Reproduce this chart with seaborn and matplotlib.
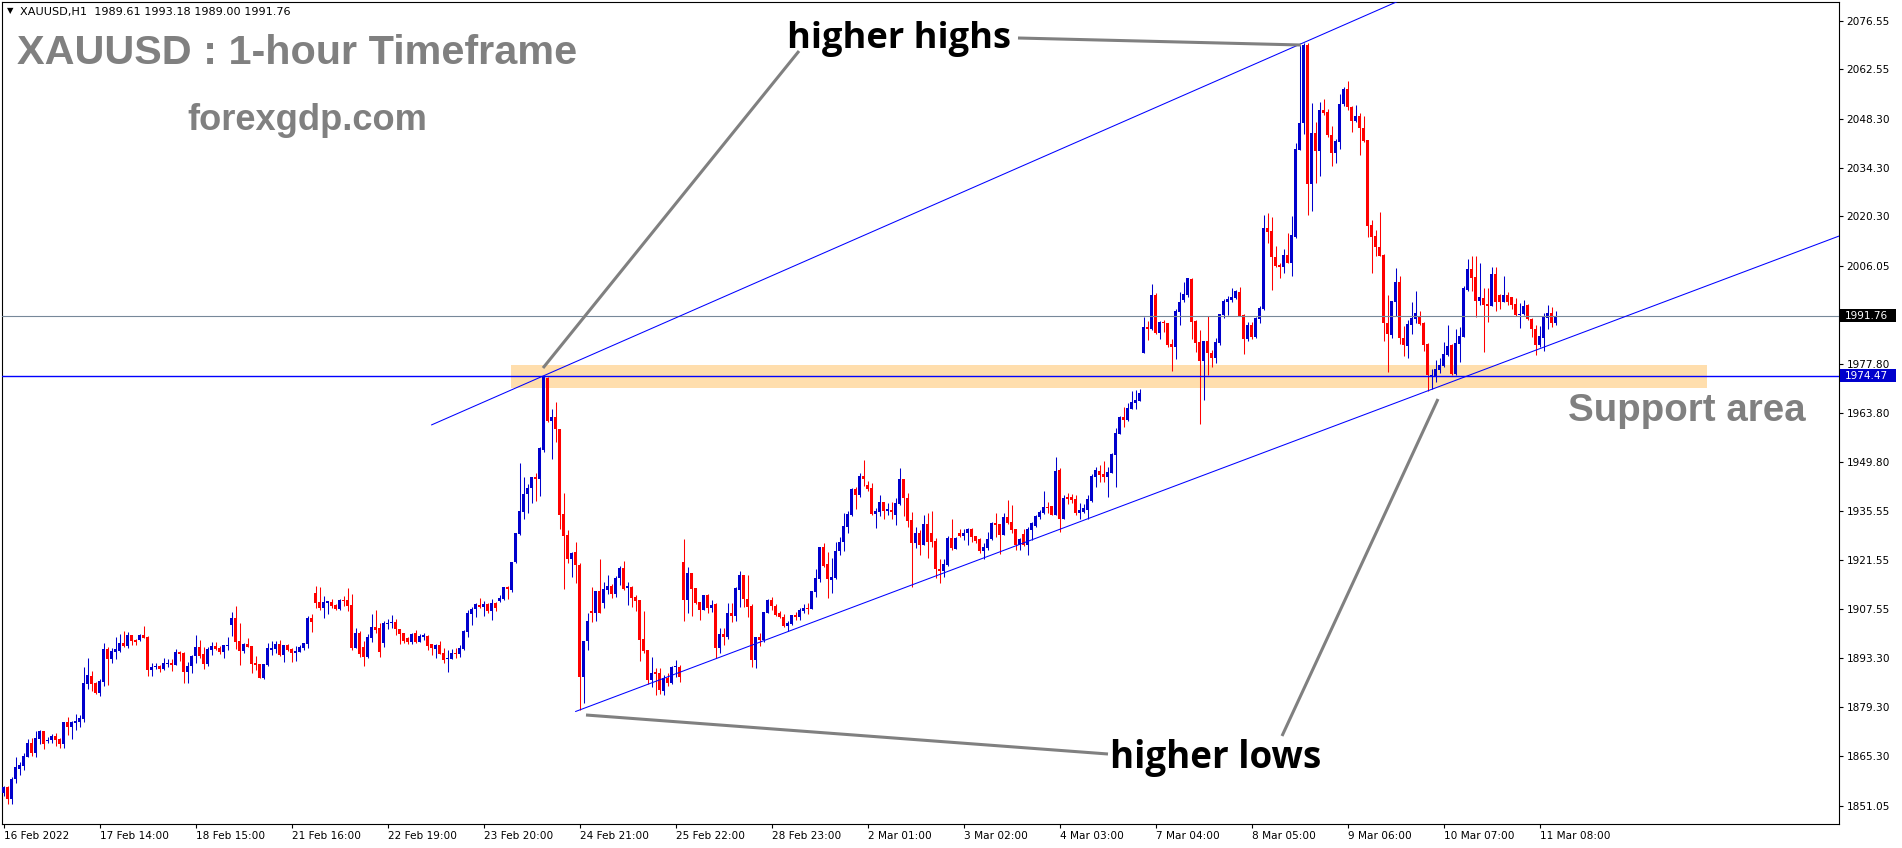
import matplotlib
matplotlib.use("Agg")
import matplotlib.pyplot as plt
import matplotlib.transforms as mtransforms
from matplotlib.patches import Rectangle
from matplotlib.lines import Line2D
import numpy as np
import pandas as pd
import seaborn as sns

# XAUUSD H1 candles, 16 Feb 2022 .. 11 Mar 2022
opens = [
    1854.6, 1856.3, 1852.8, 1858.7, 1861.5, 1862.5, 1865.1, 1869.0, 1866.2, 1870.3,
    1872.5, 1869.7, 1869.8, 1871.0, 1870.2, 1868.8, 1875.0, 1873.7, 1874.8, 1875.0,
    1875.9, 1886.1, 1888.3, 1886.3, 1883.4, 1886.6, 1896.0, 1893.2, 1895.3, 1895.5,
    1897.8, 1896.9, 1900.0, 1898.7, 1898.6, 1900.0, 1899.5, 1890.0, 1890.9, 1891.2,
    1890.3, 1891.7, 1892.0, 1891.4, 1895.2, 1894.9, 1889.4, 1891.2, 1894.0, 1896.7,
    1894.6, 1891.7, 1895.7, 1896.9, 1896.3, 1895.1, 1896.9, 1902.9, 1904.9, 1898.3,
    1895.4, 1897.5, 1896.9, 1892.0, 1891.7, 1887.7, 1891.4, 1895.7, 1896.0, 1897.5,
    1894.3, 1897.2, 1896.0, 1894.9, 1895.1, 1896.3, 1897.5, 1904.9, 1912.1, 1909.5,
    1907.8, 1909.2, 1909.5, 1908.7, 1907.5, 1910.1, 1910.1, 1908.7, 1896.3, 1900.6,
    1896.6, 1893.7, 1899.2, 1902.3, 1902.0, 1897.8, 1903.2, 1903.4, 1903.8, 1901.8,
    1900.5, 1899.1, 1898.1, 1900.5, 1898.1, 1899.6, 1899.7, 1897.4, 1896.0, 1897.2,
    1894.8, 1893.1, 1893.1, 1894.9, 1894.5, 1895.9, 1901.0, 1906.1, 1907.4, 1908.7,
    1908.2, 1908.9, 1907.0, 1909.1, 1909.9, 1910.3, 1913.7, 1913.1, 1921.0, 1929.1,
    1935.5, 1940.5, 1942.2, 1945.3, 1944.8, 1953.2, 1973.8, 1961.6, 1962.6, 1959.1,
    1934.8, 1928.9, 1921.8, 1923.9, 1920.2, 1887.9, 1898.3, 1906.9, 1906.4, 1912.8,
    1909.3, 1913.0, 1914.1, 1911.8, 1916.3, 1919.4, 1913.5, 1913.9, 1910.9, 1910.1,
    1898.9, 1895.7, 1887.1, 1889.5, 1889.2, 1884.1, 1887.6, 1886.3, 1890.8, 1890.9,
    1921.1, 1910.1, 1917.8, 1913.5, 1909.6, 1907.2, 1911.4, 1907.9, 1908.9, 1896.2,
    1900.3, 1899.6, 1906.5, 1905.5, 1913.0, 1917.3, 1910.3, 1908.4, 1892.9, 1899.6,
    1898.6, 1906.5, 1910.1, 1908.5, 1906.5, 1905.3, 1902.6, 1903.2, 1905.8, 1905.1,
    1907.0, 1907.7, 1907.4, 1912.4, 1916.2, 1925.3, 1920.4, 1915.9, 1916.4, 1924.3,
    1926.7, 1931.2, 1934.5, 1941.9, 1940.2, 1945.7, 1943.1, 1942.3, 1934.8, 1935.5,
    1938.4, 1935.7, 1936.1, 1934.5, 1937.7, 1944.8, 1939.3, 1933.1, 1926.4, 1929.3,
    1925.9, 1931.8, 1929.4, 1927.0, 1918.9, 1918.5, 1920.1, 1928.0, 1924.7, 1929.3,
    1928.5, 1929.3, 1930.5, 1928.5, 1927.5, 1924.3, 1924.9, 1927.5, 1932.1, 1931.9,
    1928.8, 1934.0, 1932.6, 1930.4, 1925.9, 1929.2, 1925.9, 1930.2, 1931.4, 1934.0,
    1935.0, 1936.9, 1937.1, 1934.5, 1947.4, 1933.5, 1939.8, 1939.8, 1939.0, 1935.2,
    1935.5, 1936.0, 1938.6, 1945.5, 1947.2, 1946.3, 1945.5, 1946.7, 1951.7, 1957.8,
    1962.8, 1961.8, 1964.9, 1966.8, 1967.3, 1981.2, 1988.4, 1987.9, 1997.7, 1986.7,
    1990.1, 1989.8, 1983.6, 1982.9, 1992.9, 1996.2, 1997.7, 2002.3, 1990.2, 1984.3,
    1978.8, 1984.5, 1981.2, 1979.5, 1984.0, 1991.9, 1995.8, 1996.3, 1997.0, 1998.7,
    1992.0, 1985.0, 1989.1, 1985.7, 1990.8, 1993.6, 2016.9, 2016.2, 2008.7, 2006.3,
    2005.8, 2009.2, 2007.0, 2014.5, 2039.4, 2047.0, 2069.5, 2029.6, 2044.2, 2039.2,
    2050.8, 2050.3, 2043.7, 2038.4, 2041.7, 2052.6, 2056.8, 2051.8, 2047.8, 2049.1,
    2045.6, 2042.2, 2017.8, 2014.7, 2011.4, 2009.2, 1989.6, 1986.2, 1995.8, 2001.6,
    1985.5, 1983.1, 1989.1, 1990.9, 1991.7, 1989.8, 1983.6, 1974.5, 1974.4, 1976.2,
    1977.3, 1980.5, 1983.4, 1975.0, 1983.6, 1985.7, 1999.2, 2005.1, 2002.8, 1996.1,
    1997.0, 1995.1, 1994.5, 2003.7, 1997.7, 1995.8, 1997.7, 1997.2, 1995.1, 1992.0,
    1992.2, 1994.8, 1990.7, 1987.9, 1983.4, 1985.5, 1991.0, 1992.5, 1989.61,
]
highs = [
    1856.8, 1856.7, 1859.2, 1865.1, 1863.6, 1866.1, 1870.2, 1870.4, 1872.4, 1872.8,
    1872.5, 1870.7, 1871.7, 1871.9, 1870.4, 1875.0, 1876.5, 1875.3, 1877.3, 1877.1,
    1890.9, 1893.4, 1889.7, 1886.5, 1887.3, 1897.7, 1896.5, 1896.2, 1899.5, 1900.3,
    1901.2, 1900.9, 1900.0, 1899.0, 1900.3, 1902.6, 1899.8, 1892.0, 1892.0, 1891.4,
    1893.4, 1893.2, 1893.2, 1896.0, 1895.5, 1895.2, 1892.3, 1894.3, 1900.0, 1898.6,
    1896.7, 1896.7, 1898.1, 1898.0, 1896.9, 1897.2, 1899.5, 1906.6, 1908.4, 1903.5,
    1897.7, 1899.2, 1896.9, 1894.0, 1891.7, 1891.7, 1897.8, 1898.3, 1898.3, 1898.6,
    1897.2, 1897.5, 1896.3, 1896.9, 1897.2, 1897.8, 1905.5, 1906.1, 1914.1, 1913.8,
    1911.3, 1909.8, 1910.4, 1909.0, 1910.4, 1911.3, 1913.5, 1911.8, 1902.1, 1901.2,
    1898.3, 1900.3, 1906.1, 1907.2, 1903.5, 1904.1, 1904.6, 1905.8, 1904.6, 1901.8,
    1900.5, 1899.6, 1900.7, 1901.5, 1900.3, 1900.5, 1900.0, 1897.4, 1897.6, 1898.4,
    1896.2, 1895.7, 1895.9, 1896.2, 1897.2, 1901.5, 1907.2, 1908.0, 1909.3, 1910.6,
    1909.9, 1909.3, 1910.3, 1909.6, 1911.6, 1913.9, 1914.2, 1921.1, 1929.4, 1949.4,
    1945.5, 1943.4, 1945.3, 1946.5, 1954.2, 1974.5, 1974.3, 1964.9, 1967.1, 1959.1,
    1940.7, 1930.2, 1924.0, 1926.9, 1920.6, 1898.3, 1906.3, 1913.9, 1912.8, 1921.9,
    1915.2, 1917.3, 1914.7, 1917.0, 1919.9, 1921.3, 1915.4, 1914.2, 1911.5, 1910.1,
    1906.9, 1895.7, 1893.6, 1890.5, 1890.5, 1888.6, 1889.0, 1891.1, 1893.0, 1891.3,
    1927.6, 1919.7, 1917.8, 1913.5, 1909.6, 1911.6, 1911.8, 1910.1, 1909.1, 1902.0,
    1902.0, 1909.1, 1909.1, 1913.9, 1918.4, 1917.3, 1917.3, 1909.0, 1899.4, 1900.7,
    1906.7, 1910.3, 1911.1, 1909.0, 1906.8, 1906.1, 1904.1, 1905.8, 1906.7, 1907.7,
    1908.9, 1909.1, 1912.8, 1918.9, 1925.3, 1926.4, 1924.0, 1922.1, 1926.9, 1928.3,
    1935.2, 1935.7, 1942.2, 1942.5, 1946.7, 1950.3, 1944.3, 1943.8, 1936.4, 1940.3,
    1938.4, 1937.9, 1938.4, 1939.3, 1947.9, 1944.8, 1940.7, 1935.5, 1931.2, 1930.2,
    1934.5, 1935.0, 1935.6, 1927.8, 1921.8, 1921.8, 1928.5, 1933.3, 1928.3, 1930.4,
    1930.6, 1930.7, 1930.7, 1928.5, 1927.8, 1926.4, 1929.7, 1932.6, 1935.0, 1931.9,
    1935.0, 1938.8, 1937.4, 1930.4, 1927.8, 1930.6, 1931.1, 1932.6, 1934.5, 1935.9,
    1941.5, 1938.3, 1937.1, 1951.1, 1947.9, 1940.2, 1940.9, 1940.5, 1940.2, 1937.9,
    1937.7, 1940.2, 1946.3, 1948.2, 1948.9, 1950.1, 1948.4, 1952.2, 1959.4, 1963.0,
    1965.6, 1966.6, 1970.2, 1970.4, 1970.6, 1991.5, 1990.3, 2000.9, 1998.4, 1990.3,
    1990.5, 1989.8, 1985.0, 1993.6, 1998.7, 2001.5, 2002.5, 2002.5, 1990.5, 1987.8,
    1984.6, 1991.7, 1981.9, 1985.3, 1992.4, 1996.7, 1997.4, 1999.6, 1999.1, 2000.1,
    1992.4, 1990.0, 1990.0, 1991.5, 1994.5, 2020.7, 2021.2, 2020.2, 2011.8, 2006.8,
    2010.8, 2015.6, 2020.4, 2041.3, 2070.0, 2070.2, 2070.0, 2052.8, 2047.5, 2053.3,
    2053.9, 2051.2, 2046.3, 2042.4, 2055.6, 2057.6, 2059.2, 2052.0, 2052.3, 2049.9,
    2049.1, 2042.2, 2019.3, 2016.4, 2021.7, 2009.5, 1997.7, 1996.0, 2005.4, 2003.2,
    1988.8, 1990.5, 1995.8, 1999.0, 1993.2, 1990.1, 1983.8, 1976.6, 1979.0, 1979.5,
    1984.3, 1989.1, 1983.7, 1987.9, 1988.4, 2000.3, 2008.0, 2008.9, 2008.9, 2007.0,
    1999.6, 1999.6, 2005.7, 2005.7, 1998.0, 2003.2, 1998.7, 1997.2, 1996.8, 1995.5,
    1996.3, 1995.1, 1991.0, 1989.1, 1988.8, 1992.6, 1994.8, 1994.4, 1993.18,
]
lows = [
    1853.9, 1851.4, 1851.4, 1857.4, 1859.9, 1861.3, 1865.1, 1865.3, 1865.1, 1868.8,
    1867.4, 1869.0, 1869.1, 1868.2, 1867.7, 1867.7, 1871.3, 1870.3, 1872.8, 1873.7,
    1875.0, 1884.5, 1884.1, 1883.2, 1882.4, 1885.5, 1885.8, 1892.1, 1893.1, 1895.1,
    1896.6, 1896.3, 1897.3, 1897.3, 1898.3, 1899.2, 1888.3, 1888.3, 1890.3, 1889.4,
    1890.0, 1890.9, 1889.7, 1891.4, 1892.6, 1886.3, 1886.3, 1889.1, 1892.0, 1893.3,
    1890.4, 1891.1, 1894.3, 1895.7, 1894.6, 1893.4, 1895.7, 1899.8, 1896.0, 1891.4,
    1894.9, 1896.6, 1889.1, 1890.0, 1887.7, 1887.4, 1891.1, 1894.3, 1894.9, 1894.0,
    1892.3, 1895.4, 1892.3, 1892.6, 1895.1, 1895.7, 1896.3, 1900.9, 1907.8, 1907.2,
    1904.9, 1906.1, 1907.8, 1907.2, 1907.2, 1908.4, 1906.9, 1895.7, 1896.3, 1893.7,
    1891.1, 1893.4, 1898.0, 1900.6, 1893.7, 1896.6, 1901.8, 1902.0, 1900.0, 1897.6,
    1897.8, 1897.6, 1897.6, 1897.8, 1898.1, 1898.6, 1895.7, 1894.3, 1893.3, 1894.6,
    1891.9, 1889.5, 1893.1, 1893.5, 1893.8, 1895.7, 1899.6, 1902.9, 1905.3, 1907.7,
    1905.5, 1906.3, 1904.3, 1907.0, 1909.6, 1910.1, 1910.3, 1912.5, 1920.8, 1928.8,
    1933.3, 1935.2, 1937.9, 1938.6, 1940.0, 1952.7, 1961.3, 1950.5, 1955.6, 1930.4,
    1913.3, 1920.8, 1916.6, 1914.9, 1878.5, 1880.4, 1895.7, 1903.9, 1904.1, 1906.3,
    1907.9, 1911.8, 1910.6, 1911.1, 1914.4, 1913.0, 1908.7, 1908.2, 1907.0, 1892.7,
    1894.8, 1886.1, 1885.2, 1882.8, 1883.1, 1882.8, 1885.4, 1886.1, 1887.9, 1886.6,
    1904.1, 1906.5, 1905.5, 1908.9, 1904.4, 1907.2, 1906.5, 1906.7, 1893.3, 1894.8,
    1897.2, 1898.8, 1903.9, 1904.2, 1908.2, 1908.2, 1905.3, 1890.9, 1890.5, 1896.9,
    1898.1, 1906.5, 1907.2, 1905.5, 1904.8, 1902.4, 1901.3, 1902.9, 1904.3, 1904.3,
    1906.3, 1906.1, 1907.4, 1911.0, 1915.4, 1919.7, 1910.8, 1912.2, 1916.1, 1923.0,
    1924.2, 1929.4, 1934.2, 1936.3, 1939.8, 1942.8, 1941.5, 1934.5, 1930.8, 1934.2,
    1933.3, 1934.5, 1933.3, 1931.6, 1937.4, 1934.2, 1931.2, 1913.9, 1924.9, 1923.0,
    1925.9, 1922.1, 1925.4, 1916.3, 1914.9, 1916.8, 1919.9, 1924.6, 1924.7, 1928.1,
    1927.3, 1925.9, 1926.8, 1926.6, 1923.7, 1921.8, 1924.6, 1927.3, 1928.3, 1923.3,
    1928.8, 1931.9, 1929.4, 1924.4, 1924.6, 1925.6, 1923.0, 1927.3, 1931.0, 1933.5,
    1934.8, 1935.0, 1934.5, 1934.5, 1929.7, 1933.5, 1937.7, 1938.0, 1934.5, 1933.5,
    1935.0, 1933.5, 1938.3, 1942.5, 1944.1, 1944.1, 1939.8, 1946.5, 1942.5, 1957.8,
    1959.9, 1961.6, 1964.9, 1964.9, 1967.3, 1981.2, 1984.8, 1987.7, 1986.5, 1985.0,
    1987.2, 1982.9, 1976.0, 1979.2, 1989.1, 1995.8, 1997.2, 1985.2, 1981.4, 1960.8,
    1967.7, 1974.7, 1977.1, 1978.3, 1983.3, 1991.0, 1992.0, 1995.8, 1996.7, 1991.7,
    1980.9, 1984.6, 1985.0, 1985.5, 1989.6, 1993.4, 2012.8, 1999.3, 2005.7, 2002.5,
    2003.9, 2007.0, 2003.2, 2014.0, 2039.4, 2044.0, 2020.7, 2021.9, 2029.8, 2031.9,
    2049.4, 2043.0, 2034.8, 2035.7, 2039.8, 2052.0, 2050.9, 2044.6, 2047.5, 2037.9,
    2041.8, 2014.5, 2003.9, 2008.9, 2008.9, 1984.6, 1975.7, 1985.3, 1991.7, 1983.6,
    1980.2, 1979.5, 1986.5, 1989.6, 1989.1, 1981.7, 1970.2, 1970.6, 1972.8, 1975.2,
    1976.9, 1980.2, 1974.7, 1974.7, 1978.6, 1985.7, 1999.0, 1999.0, 1991.5, 1994.9,
    1981.4, 1990.0, 1994.5, 1993.2, 1993.6, 1995.8, 1994.9, 1993.6, 1991.7, 1988.1,
    1992.0, 1990.5, 1985.7, 1980.5, 1982.7, 1981.7, 1987.9, 1988.4, 1989.0,
]
closes = [
    1856.5, 1852.8, 1858.7, 1862.0, 1862.7, 1865.2, 1869.0, 1866.2, 1870.5, 1872.5,
    1868.8, 1869.9, 1871.1, 1869.9, 1868.8, 1875.0, 1873.7, 1875.0, 1875.3, 1876.2,
    1886.3, 1888.6, 1886.1, 1883.4, 1886.8, 1896.0, 1893.2, 1895.5, 1895.9, 1897.8,
    1896.9, 1900.0, 1898.4, 1898.1, 1900.0, 1899.2, 1890.0, 1890.9, 1891.2, 1890.3,
    1892.0, 1892.0, 1891.4, 1895.2, 1894.6, 1889.4, 1891.2, 1894.0, 1896.6, 1894.0,
    1891.7, 1896.0, 1896.9, 1896.0, 1895.1, 1897.2, 1897.2, 1904.9, 1898.0, 1895.4,
    1897.5, 1896.6, 1891.7, 1891.4, 1887.7, 1891.7, 1896.3, 1896.3, 1897.5, 1894.3,
    1897.2, 1895.7, 1894.9, 1895.4, 1896.6, 1897.8, 1904.9, 1903.8, 1909.2, 1907.8,
    1909.5, 1909.8, 1908.4, 1907.5, 1910.1, 1909.8, 1908.4, 1896.3, 1900.6, 1894.5,
    1893.7, 1899.5, 1902.3, 1901.5, 1895.2, 1903.5, 1903.5, 1903.6, 1901.7, 1900.3,
    1898.4, 1898.1, 1900.3, 1898.1, 1899.8, 1900.0, 1896.9, 1896.2, 1897.2, 1894.6,
    1892.9, 1893.5, 1894.8, 1894.5, 1896.4, 1901.2, 1906.3, 1907.5, 1908.9, 1908.2,
    1908.9, 1907.0, 1909.1, 1907.7, 1910.6, 1913.7, 1913.4, 1921.1, 1929.4, 1935.7,
    1940.5, 1942.4, 1945.3, 1944.9, 1953.7, 1974.3, 1961.6, 1962.6, 1959.1, 1934.4,
    1928.6, 1921.8, 1923.7, 1920.2, 1887.9, 1898.3, 1904.0, 1906.4, 1912.8, 1906.3,
    1913.3, 1914.1, 1911.8, 1916.5, 1919.4, 1913.3, 1914.2, 1910.6, 1909.9, 1898.6,
    1895.5, 1887.1, 1889.2, 1888.8, 1884.2, 1887.6, 1886.3, 1890.8, 1891.0, 1887.9,
    1910.1, 1917.8, 1913.2, 1909.3, 1907.2, 1911.4, 1907.9, 1908.7, 1896.2, 1900.3,
    1899.6, 1906.5, 1905.5, 1913.5, 1917.3, 1910.3, 1908.2, 1892.9, 1899.4, 1898.6,
    1906.7, 1910.1, 1908.4, 1905.8, 1905.3, 1902.6, 1903.6, 1905.8, 1905.1, 1907.2,
    1907.8, 1907.4, 1912.6, 1916.4, 1925.3, 1919.9, 1916.2, 1916.7, 1924.3, 1926.8,
    1931.4, 1934.8, 1941.9, 1940.3, 1945.7, 1945.0, 1941.9, 1934.8, 1935.7, 1938.4,
    1935.7, 1936.3, 1935.5, 1938.0, 1944.8, 1939.3, 1932.9, 1926.6, 1929.3, 1925.9,
    1931.8, 1926.9, 1926.9, 1918.9, 1918.5, 1920.4, 1928.0, 1925.1, 1928.0, 1928.5,
    1929.3, 1930.5, 1928.3, 1927.0, 1924.3, 1925.2, 1927.5, 1932.3, 1931.6, 1928.8,
    1934.0, 1932.3, 1930.2, 1925.9, 1927.5, 1925.9, 1930.4, 1932.1, 1934.2, 1935.5,
    1936.7, 1936.4, 1934.5, 1947.2, 1933.5, 1939.3, 1939.0, 1938.8, 1935.2, 1936.0,
    1936.4, 1939.0, 1945.7, 1947.4, 1946.0, 1945.5, 1947.0, 1952.0, 1958.0, 1962.8,
    1961.8, 1965.2, 1967.1, 1967.5, 1969.6, 1988.4, 1987.9, 1997.7, 1986.7, 1990.1,
    1989.6, 1983.4, 1982.9, 1993.2, 1995.8, 1998.0, 2002.5, 1990.0, 1984.0, 1978.8,
    1984.5, 1981.0, 1979.5, 1984.3, 1992.2, 1996.1, 1996.7, 1997.2, 1998.9, 1991.7,
    1985.0, 1989.1, 1985.7, 1991.0, 1993.9, 2016.9, 2015.9, 2008.5, 2006.0, 2005.7,
    2009.2, 2007.0, 2014.9, 2039.6, 2047.2, 2069.5, 2029.6, 2044.2, 2039.2, 2050.8,
    2050.1, 2043.7, 2038.4, 2041.9, 2052.6, 2056.8, 2051.6, 2047.8, 2049.1, 2045.6,
    2042.0, 2017.5, 2014.5, 2011.4, 2008.9, 1989.6, 1986.5, 1996.0, 2001.6, 1985.3,
    1983.4, 1989.4, 1991.2, 1992.6, 1989.4, 1983.4, 1974.7, 1974.8, 1976.4, 1977.6,
    1980.8, 1983.1, 1975.0, 1984.0, 1985.9, 1999.6, 2005.1, 2002.5, 1996.1, 1997.2,
    1994.8, 1994.5, 2003.7, 1995.8, 1995.8, 1997.7, 1995.8, 1994.8, 1992.0, 1992.4,
    1994.5, 1990.7, 1987.9, 1983.4, 1985.9, 1991.5, 1992.5, 1989.6, 1991.76,
]

date_labels = ["16 Feb 2022", "17 Feb 14:00", "18 Feb 15:00", "21 Feb 16:00",
               "22 Feb 19:00", "23 Feb 20:00", "24 Feb 21:00", "25 Feb 22:00",
               "28 Feb 23:00", "2 Mar 01:00", "3 Mar 02:00", "4 Mar 03:00",
               "7 Mar 04:00", "8 Mar 05:00", "9 Mar 06:00", "10 Mar 07:00",
               "11 Mar 08:00"]
price_ticks = [2076.55, 2062.55, 2048.30, 2034.30, 2020.30, 2006.05, 1977.80,
               1963.80, 1949.80, 1935.55, 1921.55, 1907.55, 1893.30, 1879.30,
               1865.30, 1851.05]
last_price = 1991.76
level_price = 1974.47
support_zone = (1971.0, 1977.6)
header = "XAUUSD,H1  1989.61 1993.18 1989.00 1991.76"

W, H = 1902, 848
sns.set_theme(style="white")
plt.rcParams["font.family"] = ["DejaVu Sans"]

BLUE = "#0000CC"
RED = "#FF0000"
GRAY = "#808080"

df = pd.DataFrame({"open": opens, "high": highs, "low": lows, "close": closes})
df["bar"] = np.arange(len(df))
df["color"] = np.where(df["close"] >= df["open"], BLUE, RED)
df["body_lo"] = df[["open", "close"]].min(axis=1)
df["body_h"] = (df["close"] - df["open"]).abs().clip(lower=0.29)

fig = plt.figure(figsize=(W / 100, H / 100), dpi=100)
fig.patch.set_facecolor("white")

# plot frame in pixels (MT4 window)
L, R, T, B = 2, 1839, 2, 824
ax = fig.add_axes([L / W, 1 - B / H, (R - L) / W, (B - T) / H])
ax.set_facecolor("white")
px_per_usd = 3.481
ax.set_ylim(2076.55 - (B - 20.6) / px_per_usd, 2076.55 + (20.6 - T) / px_per_usd)
ax.set_xlim((L - 3.5) / 4, (R - 3.5) / 4)

# support zone
ax.add_patch(Rectangle((126.9, support_zone[0]), 425.9 - 126.9,
                       support_zone[1] - support_zone[0],
                       facecolor="#FFDEAD", edgecolor="none", zorder=1))

# candles
ax.vlines(df["bar"], df["low"], df["high"], colors=df["color"], linewidth=0.75, zorder=2)
ax.bar(df["bar"], df["body_h"], bottom=df["body_lo"], width=0.75,
       color=df["color"], linewidth=0, zorder=3)

# horizontal levels
ax.axhline(last_price, color="#778899", lw=0.8, zorder=4)
ax.axhline(level_price, color="#0000FF", lw=1.0, zorder=4)

# channel lines through the swing points
hi_a, hi_b = 135, 325
lo_a, lo_b = 144, 357
k_up = (df.high[hi_b] - df.high[hi_a]) / (hi_b - hi_a)
xs = np.array([107, 470])
ax.plot(xs, df.high[hi_a] + k_up * (xs - hi_a), color="#0000FF", lw=0.75, zorder=4)
k_lo = (df.low[lo_b] - df.low[lo_a]) / (lo_b - lo_a)
xs = np.array([143, 470])
ax.plot(xs, df.low[lo_a] + k_lo * (xs - lo_a), color="#0000FF", lw=0.75, zorder=4)

# axes styling
for s in ax.spines.values():
    s.set_color("black")
    s.set_linewidth(0.8)
ax.grid(False)
ax.yaxis.tick_right()
ax.set_yticks(price_ticks)
ax.set_yticklabels([f"{p:.2f}" for p in price_ticks])
ax.tick_params(axis="y", left=False, right=True, length=3, width=0.8, pad=2.5,
               labelsize=7.6, colors="black", direction="out")
ax.set_xticks([24 * k for k in range(len(date_labels))])
ax.set_xticklabels(date_labels)
for lbl in ax.get_xticklabels():
    lbl.set_ha("left")
ax.tick_params(axis="x", bottom=True, length=3, width=0.8, pad=2,
               labelsize=7.6, colors="black", direction="out")

# price boxes on the right scale
blend = mtransforms.blended_transform_factory(fig.transFigure, ax.transData)
for price, bg in [(last_price, "black"), (level_price, "#0000CC")]:
    fig.add_artist(Rectangle((1840 / W, price - 6.5 / px_per_usd), 56 / W,
                             13 / px_per_usd, transform=blend,
                             facecolor=bg, edgecolor="none", zorder=5))
    fig.text(1845 / W, price, f"{price:.2f}", transform=blend, color="white",
             fontsize=7.6, va="center", ha="left", zorder=6)

# gray pointer lines
for (x0, y0), (x1, y1) in [((543, 368), (799, 51)), ((1018, 38), (1301, 45)),
                           ((586, 715), (1108, 754)), ((1282, 736), (1438, 399))]:
    fig.add_artist(Line2D([x0 / W, x1 / W], [1 - y0 / H, 1 - y1 / H],
                          color=GRAY, lw=2.2, solid_capstyle="butt"))

renderer = fig.canvas.get_renderer()


def fit_text(s, x, base, width, **kw):
    t = fig.text(x / W, 1 - base / H, s, ha="left", va="baseline", fontsize=20, **kw)
    w = t.get_window_extent(renderer).width
    t.set_fontsize(20 * width / w)
    return t


fit_text("XAUUSD : 1-hour Timeframe", 17, 63.5, 559, color=GRAY,
         fontweight="bold", family="Liberation Sans")
fit_text("forexgdp.com", 187, 129.5, 240, color=GRAY,
         fontweight="bold", family="Liberation Sans")
fit_text("Support area", 1568, 421, 237, color=GRAY,
         fontweight="bold", family="Liberation Sans")
fit_text("higher highs", 787, 47.6, 224, color="black",
         fontweight="bold", family="Open Sans")
fit_text("higher lows", 1110, 768, 211, color="black",
         fontweight="bold", family="Open Sans")

# header line
fig.text(7 / W, 1 - 11 / H, "\u25bc", fontsize=6, va="center", ha="left", color="black")
fit_text(header, 20.5, 15, 270, color="black")

fig.savefig("out.png", dpi=100, facecolor="white")
